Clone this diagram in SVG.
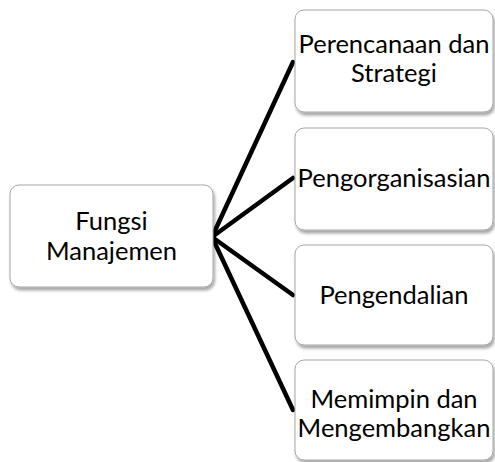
<svg xmlns="http://www.w3.org/2000/svg" width="495" height="462" viewBox="0 0 495 462">
<defs>
<filter id="sh" x="-10%" y="-10%" width="125%" height="130%">
<feDropShadow dx="1.5" dy="3" stdDeviation="1.5" flood-color="#000" flood-opacity="0.35"/>
</filter>
</defs>
<style>
.box{fill:#fff;stroke:#a6a6a6;stroke-width:1;filter:url(#sh)}
.t{font-family:Lato,"Liberation Sans",sans-serif;font-size:25.5px;fill:#000;text-anchor:middle}
.c{stroke:#000;stroke-width:4.5;stroke-linecap:round;fill:none}
</style>
<rect width="495" height="462" fill="#fff"/>
<g id="connectors">
<line class="c" x1="212" y1="237" x2="293" y2="62"/>
<line class="c" x1="212" y1="237" x2="293" y2="178"/>
<line class="c" x1="212" y1="237" x2="293" y2="295"/>
<line class="c" x1="212" y1="237" x2="293" y2="410"/>
</g>
<g id="fungsi">
<rect class="box" x="10" y="185" width="203" height="102" rx="9"/>
<text class="t" x="111.5" y="230">Fungsi</text>
<text class="t" x="111.5" y="260">Manajemen</text>
</g>
<g id="perencanaan">
<rect class="box" x="295" y="10" width="198" height="102" rx="9"/>
<text class="t" x="394" y="53">Perencanaan dan</text>
<text class="t" x="394" y="82">Strategi</text>
</g>
<g id="pengorganisasian">
<rect class="box" x="295" y="128" width="198" height="102" rx="9"/>
<text class="t" x="394" y="187">Pengorganisasian</text>
</g>
<g id="pengendalian">
<rect class="box" x="295" y="245" width="198" height="100" rx="9"/>
<text class="t" x="394" y="304">Pengendalian</text>
</g>
<g id="memimpin">
<rect class="box" x="295" y="360" width="198" height="100" rx="9"/>
<text class="t" x="394" y="408">Memimpin dan</text>
<text class="t" x="394" y="437">Mengembangkan</text>
</g>
</svg>
